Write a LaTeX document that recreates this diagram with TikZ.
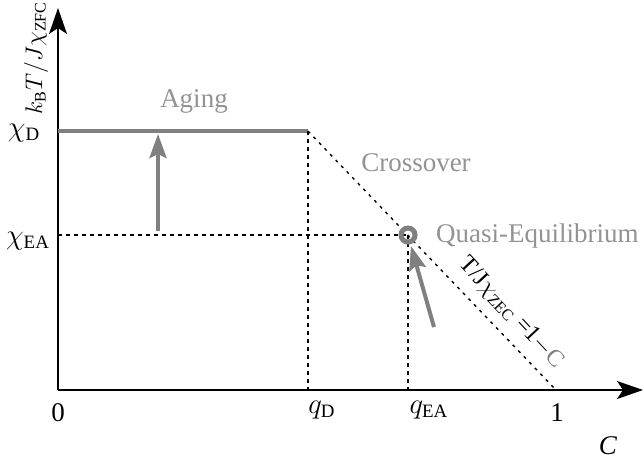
\documentclass[tikz,border=0pt]{standalone}
\usepackage{fontspec}
\setmainfont{Liberation Serif}
\usetikzlibrary{arrows.meta,positioning,calc}

\begin{document}
\begin{tikzpicture}[x=0.5pt, y=-0.5pt,
    axis/.style={line width=0.8pt, -{Stealth[length=13pt,width=9pt,inset=3pt]}},
    guide/.style={line width=0.6pt, dash pattern=on 2pt off 2pt},
    dotline/.style={line width=0.7pt, dash pattern=on 1.5pt off 2.5pt},
    regime/.style={text=gray!85, font=\fontsize{13.5}{16}\selectfont},
    flow/.style={draw=gray, line width=2pt, -{Stealth[length=12pt,width=8.5pt,inset=2pt]}},
    lbl/.style={font=\fontsize{13.5}{16}\selectfont}
]
\useasboundingbox (0,0) rectangle (644,462);

% Axes
\coordinate (O) at (58,390);
\coordinate (xend) at (643,390);
\coordinate (yend) at (58,8);
\draw[axis] (O) -- (xend);
\draw[axis] (O) -- (yend);

\node[font=\fontsize{11.5}{14}\selectfont, rotate=90] (ylab) at (36,58) {$k_{\mathrm{B}}T/J\chi_{\mathrm{ZFC}}$};
\node[lbl, font=\fontsize{13.5}{16}\itshape] (xlab) at (608,446) {C};
\node[lbl] (zero) at (58,413) {0};
\node[lbl] (one) at (557,413) {1};

% Key points
\coordinate (D) at (308,131);
\coordinate (EA) at (408,235);
\coordinate (Cone) at (556,390);
\coordinate (qD) at (308,390);
\coordinate (qEA) at (408,390);
\coordinate (chiEAax) at (58,235);
\coordinate (chiDax) at (58,131);

\node[lbl] (chiD) at (24,133) {$\chi_{\mathrm{D}}$};
\node[lbl] (chiEA) at (28,241) {$\chi_{\mathrm{EA}}$};
\node[lbl] (qDlab) at (322,410) {$q_{\mathrm{D}}$};
\node[lbl] (qEAlab) at (429,410) {$q_{\mathrm{EA}}$};

% Aging plateau
\draw[gray, line width=2pt] (chiDax) -- (D);
\draw[guide] (D) -- (qD);

% Crossover line
\draw[dotline] (D) -- (Cone);
\node[font=\fontsize{12}{14}\selectfont, rotate=-47] (eqlab) at (511,313)
    {T/J$\chi_{\mathrm{ZEC}}$ =1$-${\color{gray}C}};

% Quasi-equilibrium point
\draw[guide] (chiEAax) -- (EA);
\draw[guide] (EA) -- (qEA);
\node[circle, draw=gray, line width=2.5pt, minimum size=7pt, inner sep=0pt] (qe) at (EA) {};

% Regime labels
\node[regime] (aging) at (194,101) {Aging};
\node[regime] (cross) at (416,163) {Crossover};
\node[regime, anchor=west] (quasi) at (429,236) {Quasi-Equilibrium};

% Flow arrows
\coordinate (a1s) at (158,231);
\coordinate (a1e) at (158,134);
\coordinate (a2s) at (434,327);
\coordinate (a2e) at (411,246);
\draw[flow] (a1s) -- (a1e);
\draw[flow] (a2s) -- (a2e);

\end{tikzpicture}
\end{document}
